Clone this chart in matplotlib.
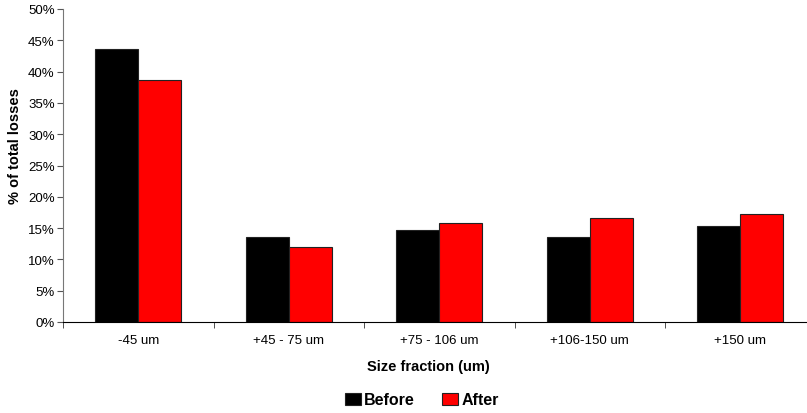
import matplotlib.pyplot as plt
import numpy as np
from matplotlib.ticker import PercentFormatter

plt.rcParams['font.family'] = ['Liberation Sans', 'DejaVu Sans']

categories = ['-45 um', '+45 - 75 um', '+75 - 106 um', '+106-150 um', '+150 um']
before = [43.6, 13.5, 14.7, 13.5, 15.3]
after = [38.6, 12.0, 15.8, 16.6, 17.3]

W, H = 807, 414
fig = plt.figure(figsize=(W / 100, H / 100), dpi=100)
# axes box in pixels: left 63, bottom 323, top 10; category width ~150.5 px
ax = fig.add_axes([63 / W, (H - 323) / H, 5 * 150.5 / W, (323 - 10) / H])

x = np.arange(len(categories))
bw = 0.286
ax.bar(x - bw / 2, before, bw, color='black', edgecolor='#222222', linewidth=0.8, label='Before')
ax.bar(x + bw / 2, after, bw, color='#ff0000', edgecolor='#222222', linewidth=0.8, label='After')

ax.set_ylim(0, 50)
ax.set_yticks(np.arange(0, 51, 5))
ax.yaxis.set_major_formatter(PercentFormatter(decimals=0))
ax.set_xlim(-0.5, 4.5)
ax.set_xticks(x)
ax.set_xticklabels(categories)
ax.set_xticks(np.arange(-0.5, 5, 1), minor=True)
ax.tick_params(axis='x', which='major', length=0, pad=8.5, labelsize=9.5)
ax.tick_params(axis='x', which='minor', length=4, direction='out', color='#333333')
ax.tick_params(axis='y', length=4, direction='out', labelsize=9.5, pad=2, color='#555555')

for s in ['top', 'right']:
    ax.spines[s].set_visible(False)
ax.spines['left'].set_color('#777777')
ax.spines['bottom'].set_color('black')

fig.text(428 / W, 1 - 367 / H, 'Size fraction (um)', fontsize=10.5, fontweight='bold',
         ha='center', va='center')
fig.text(15 / W, 1 - 146 / H, '% of total losses', fontsize=10.5, fontweight='bold',
         ha='center', va='center', rotation=90)

fig.legend(loc='center', bbox_to_anchor=(422 / W, 1 - 401 / H), ncol=2, frameon=False,
           prop={'weight': 'bold', 'size': 11.5}, handlelength=1.0, handleheight=0.8,
           handletextpad=0.2, columnspacing=1.7, borderpad=0, borderaxespad=0)

fig.savefig('out.png', dpi=100)
